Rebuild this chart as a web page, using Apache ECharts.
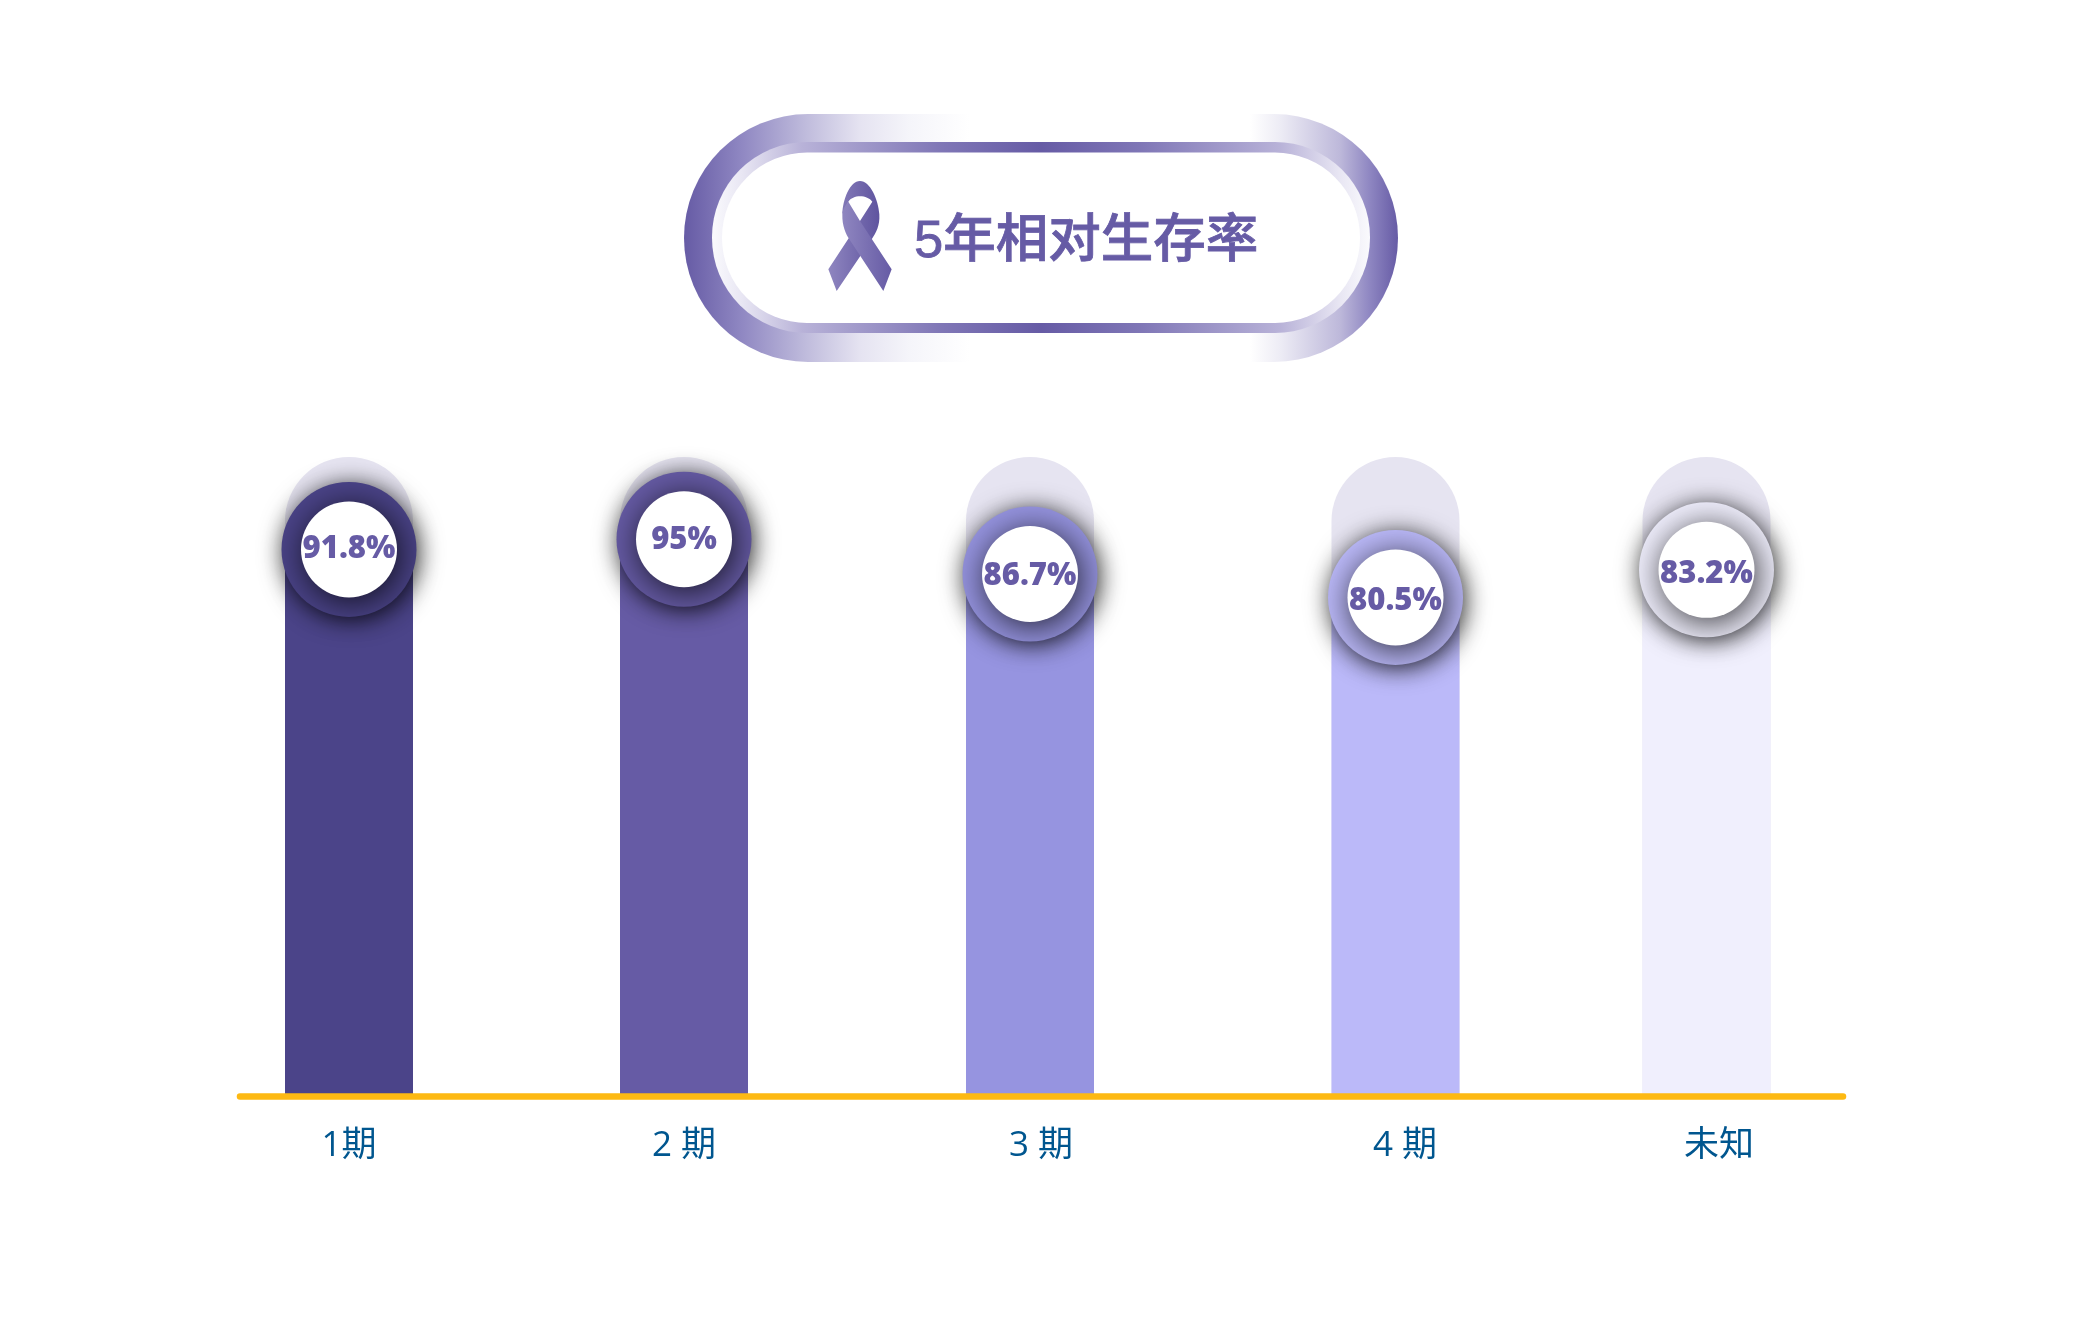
<!DOCTYPE html>
<html>
<head>
<meta charset="utf-8">
<style>html,body{margin:0;padding:0;background:#fff}#c{width:2084px;height:1334px}</style>
<script src="https://cdn.jsdelivr.net/npm/echarts@6/dist/echarts.min.js"></script>
</head>
<body>
<div id="c"></div>
<script>
// ---- data ----
const categories = ['1期', '2 期', '3 期', '4 期', '未知'];
const rates = [91.8, 95, 86.7, 80.5, 83.2];              // printed values (%)
const levels = [91.1, 92.8, 87.0, 83.1, 87.7];           // drawn height of each bar
const trackLevel = 106.5;                                // height of the pale track behind each bar
const titleText = '5年相对生存率';

// ---- layout / style (the x axis is a pixel ruler so the uneven spacing can be kept) ----
const barCenters = [349, 684, 1030, 1395.5, 1706.5];
const labelCenters = [349, 684, 1041, 1405, 1719];
const labelNudgeY = [0, 1, 2, 4, 4];
const barColors = ['#4B4489', '#665BA5', '#9694E0', '#BBB9F9', '#F0EFFD'];
const purple = '#665BA5';
const trackColor = '#E6E4F1';
const axisStart = 240, axisEnd = 1843;

const grad = (stops) => ({type:'linear',x:0,y:0,x2:1,y2:0,colorStops:stops.map(s=>({offset:s[0],color:s[1]}))});

echarts.graphic.registerShape('ribbonBack', echarts.graphic.extendPath('M150 30 C180 30 205 85 208 130 C210 165 198 185 185 205 L80 360 L55 295 L150 150 L187 92 C172 70 128 70 115 92 L97 130 C98 85 120 30 150 30 Z', {}));
echarts.graphic.registerShape('ribbonFront', echarts.graphic.extendPath('M97 130 C96 165 108 190 118 205 L220 360 L245 295 L150 150 L115 92 C105 105 98 115 97 130 Z', {}));

const chart = echarts.init(document.getElementById('c'), null, {renderer:'canvas'});
chart.setOption({
  animation:false,
  backgroundColor:'#fff',
  grid:{left:axisStart,right:2084-axisEnd,top:457,bottom:1334-1096,containLabel:false},
  xAxis:{
    type:'value',min:axisStart,max:axisEnd,z:5,splitLine:{show:false},
    axisLine:{show:true,onZero:false,lineStyle:{color:'#FDB913',width:6.5,cap:'round'}},
    axisTick:{show:false},
    axisLabel:{
      show:true,customValues:labelCenters,margin:33,showMinLabel:true,showMaxLabel:true,
      formatter:(v)=>categories[labelCenters.indexOf(v)]||'',
      color:'#00568F',fontSize:35,fontFamily:'"Open Sans","Noto Sans CJK SC",sans-serif'
    }
  },
  yAxis:{type:'value',min:0,max:trackLevel,show:false,splitLine:{show:false}},
  series:[
    {type:'bar',name:'track',barWidth:128,barGap:'-100%',silent:true,z:1,
     data:barCenters.map(x=>[x,trackLevel]),
     itemStyle:{color:trackColor,borderRadius:[64,64,0,0]}},
    {type:'bar',name:'5年相对生存率',barWidth:128,barGap:'-100%',z:2,
     data:barCenters.map((x,i)=>({value:[x,levels[i]],itemStyle:{color:barColors[i]}}))},
    {type:'scatter',name:'ring',symbol:'circle',symbolSize:135,z:3,silent:true,
     data:barCenters.map((x,i)=>({value:[x,levels[i]],itemStyle:{opacity:1,color:barColors[i],shadowBlur:24,shadowColor:'rgba(0,0,0,0.75)',shadowOffsetX:2,shadowOffsetY:3}}))},
    {type:'scatter',name:'disc',symbol:'circle',symbolSize:96,z:4,silent:true,
     data:barCenters.map((x,i)=>({
       value:[x,levels[i]],
       itemStyle:{opacity:1,color:'#fff',shadowBlur:34,shadowColor:'rgba(0,0,0,0.8)',shadowOffsetX:3,shadowOffsetY:5},
       label:{offset:[0,labelNudgeY[i]]}
     })),
     label:{show:true,position:'inside',color:purple,fontSize:31,fontWeight:800,fontFamily:'"Open Sans","Noto Sans",sans-serif',
       formatter:(p)=>rates[p.dataIndex]+'%'}}
  ],
  graphic:[
    {type:'rect',z:10,shape:{x:684,y:114,width:714,height:248,r:124},
     style:{fill:grad([[0,purple],[0.08,'#8F87C2'],[0.17,'#BFBBDC'],[0.246,'#E5E3F1'],[0.316,'#F5F5FA'],[0.4,'#ffffff'],[0.793,'#ffffff'],[0.835,'#EDECF5'],[0.919,'#BDB8DA'],[0.96,'#8F87C2'],[1,purple]])}},
    {type:'rect',z:11,shape:{x:712,y:142,width:658,height:191,r:95},
     style:{fill:grad([[0,'#FAFAFD'],[0.046,'#E8E6F3'],[0.137,'#B8B2D8'],[0.35,'#7F76B6'],[0.5,purple],[0.65,'#7F76B6'],[0.863,'#B8B2D8'],[0.954,'#E8E6F3'],[1,'#FAFAFD']])}},
    {type:'rect',z:12,shape:{x:722,y:152.5,width:638,height:170.5,r:85},style:{fill:'#fff'}},
    {type:'ribbonBack',z:13,x:810,y:171,scaleX:1/3,scaleY:1/3,
     style:{fill:{type:'linear',x:0,y:0,x2:1,y2:0,colorStops:[{offset:0,color:'#8F86C0'},{offset:1,color:'#5F549F'}]}}},
    {type:'ribbonFront',z:14,x:810,y:171,scaleX:1/3,scaleY:1/3,
     style:{fill:{type:'linear',x:0,y:0,x2:1,y2:0,colorStops:[{offset:0,color:'#8F86C0'},{offset:1,color:'#665BA5'}]}}},
    {type:'text',z:15,x:914,y:243,
     style:{text:titleText,fill:purple,stroke:purple,lineWidth:0.8,font:'500 52.5px "Liberation Sans","Noto Sans CJK SC",sans-serif',textAlign:'left',textVerticalAlign:'middle'}}
  ]
});
</script>
</body>
</html>
